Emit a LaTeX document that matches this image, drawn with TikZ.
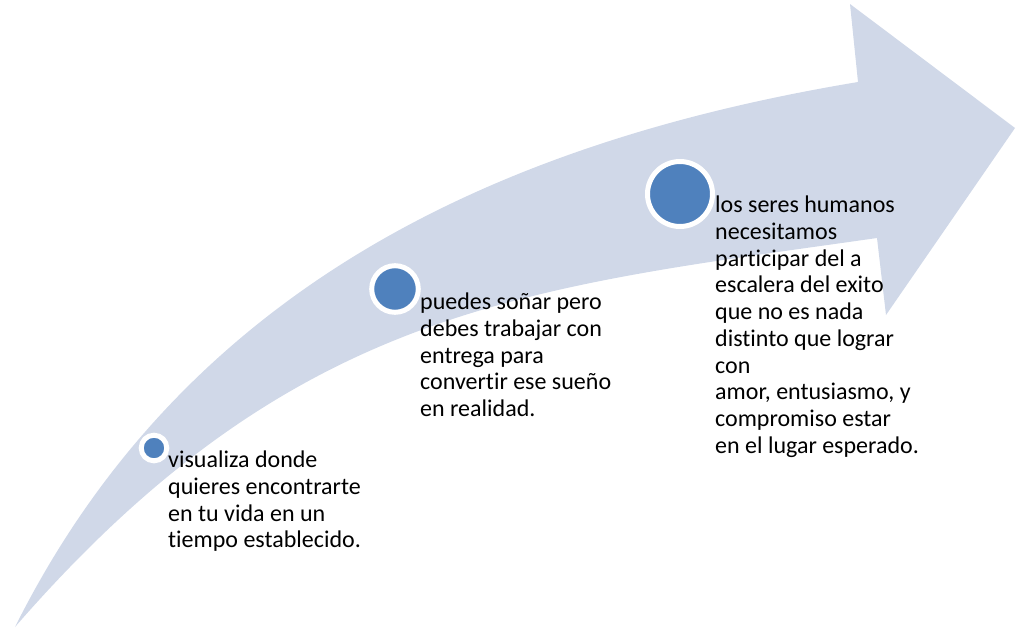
\documentclass[tikz,border=0pt]{standalone}
\usepackage{fontspec}
\setmainfont{Carlito}[RawFeature=-liga]
\definecolor{arrowfill}{RGB}{208,216,232}
\definecolor{dotblue}{RGB}{79,129,189}
\tikzset{
  band/.style={fill=arrowfill},
  dot/.style={circle,fill=dotblue,draw=white,line width=5pt,inner sep=0pt},
  label/.style={anchor=north west,align=left,inner sep=0pt,font=\fontsize{24}{26.7}\selectfont,text=black}
}
\begin{document}
\begin{tikzpicture}[x=1pt,y=-1pt]
\useasboundingbox (0,0) rectangle (1018,627);
\fill[band] (15,627) .. controls (185,287) and (498,142) .. (858,82)
  -- (850,4) -- (1015,128) -- (886,315) -- (877,238)
  .. controls (527,288) and (295,305) .. (15,627) -- cycle;
\node[dot,minimum size=25.6pt] (c1) at (154,448) {};
\node[dot,minimum size=46.6pt] (c2) at (395,289) {};
\node[dot,minimum size=65pt] (c3) at (680,194) {};
\node[label] (t1) at (168,451) {visualiza donde\\quieres encontrarte\\en tu vida en un\\tiempo establecido.};
\node[label] (t2) at (420,293) {puedes soñar pero\\debes trabajar con\\entrega para\\convertir ese sueño\\en realidad.};
\node[label] (t3) at (715,196) {los seres humanos\\necesitamos\\participar del a\\escalera del exito\\que no es nada\\distinto que lograr\\con\\amor, entusiasmo, y\\compromiso estar\\en el lugar esperado.};
\end{tikzpicture}
\end{document}
